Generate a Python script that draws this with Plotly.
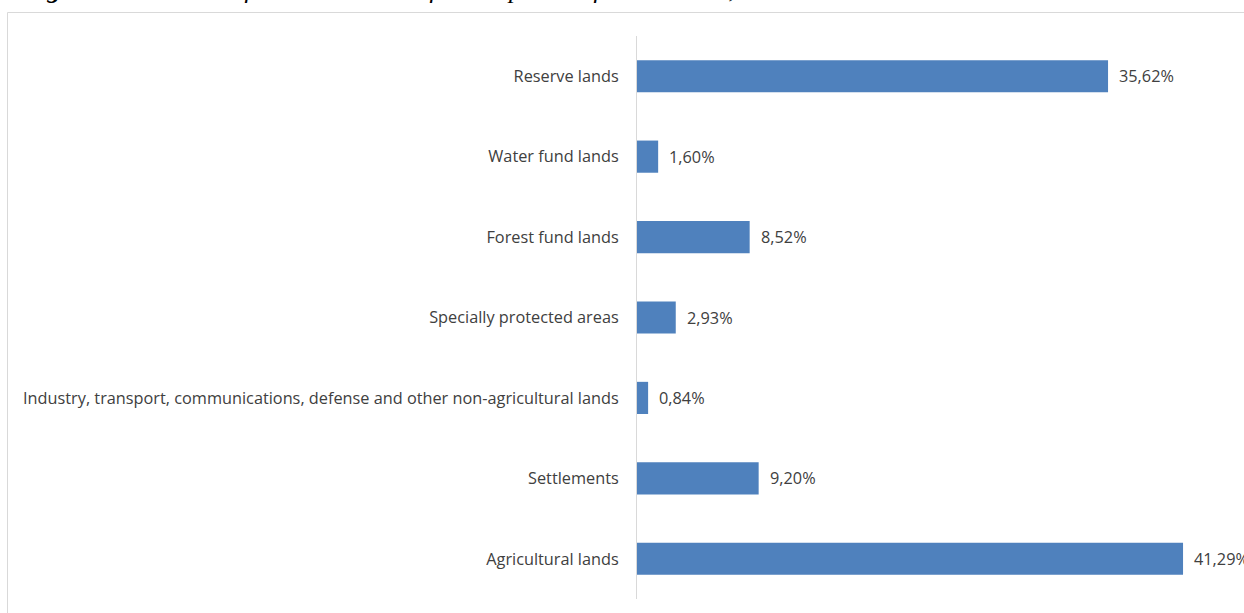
import plotly.graph_objects as go

# Land fund structure, top to bottom as displayed
categories = [
    "Reserve lands",
    "Water fund lands",
    "Forest fund lands",
    "Specially protected areas",
    "Industry, transport, communications, defense and other non-agricultural lands",
    "Settlements",
    "Agricultural lands",
]
shares = [35.62, 1.60, 8.52, 2.93, 0.84, 9.20, 41.29]

title_text = "<b><i>Figure 1.</i></b><i> Structure of land resources of the Republic of Kazakhstan, 2021</i>"

W, H = 1244, 613
M_L, M_R, M_T, M_B = 637, 0, 36, 14
X_MAX = 45.9

BAR_COLOR = "#4F81BD"
TEXT_COLOR = "#404040"
FRAME_COLOR = "#D9D9D9"
FONT = "Open Sans"
FONT_SIZE = 16.3

fig = go.Figure(
    go.Bar(
        x=shares,
        y=categories,
        orientation="h",
        marker=dict(color=BAR_COLOR, line=dict(width=0)),
        hoverinfo="skip",
    )
)

# Value labels just to the right of each bar
for cat, val in zip(categories, shares):
    fig.add_annotation(
        x=val, y=cat, xref="x", yref="y",
        text=f"{val:.2f}%".replace(".", ","),
        showarrow=False, xanchor="left", xshift=9,
        font=dict(family=FONT, size=FONT_SIZE, color=TEXT_COLOR),
    )

# Convert pixel positions to paper coordinates
pw = W - M_L - M_R
ph = H - M_T - M_B
def px_x(p):
    return (p - M_L) / pw
def px_y(p):
    return 1 + (M_T - p) / ph

# Caption above the chart frame (runs past the top edge of the page)
fig.add_annotation(
    x=px_x(20), y=1, xref="paper", yref="paper",
    text=title_text, showarrow=False,
    xanchor="left", yanchor="bottom", yshift=30,
    font=dict(family="Liberation Serif", size=26, color="#000000"),
)

# Outer chart frame
fig.add_shape(
    type="rect", xref="paper", yref="paper",
    x0=px_x(7.5), x1=px_x(W + 5), y0=px_y(H + 5), y1=px_y(12.5),
    line=dict(color=FRAME_COLOR, width=1), fillcolor="rgba(0,0,0,0)",
    layer="below",
)

fig.update_layout(
    width=W, height=H,
    margin=dict(l=M_L, r=M_R, t=M_T, b=M_B, pad=0),
    paper_bgcolor="white", plot_bgcolor="white",
    bargap=0.6,
    showlegend=False,
    xaxis=dict(range=[0, X_MAX], showgrid=False, zeroline=False,
               showticklabels=False, showline=False, fixedrange=True),
    yaxis=dict(autorange="reversed", showgrid=False, zeroline=False,
               showline=True, linecolor=FRAME_COLOR, linewidth=1,
               ticks="", ticklabelstandoff=14,
               tickfont=dict(family=FONT, size=FONT_SIZE, color=TEXT_COLOR)),
)

fig.write_html("out.html")
